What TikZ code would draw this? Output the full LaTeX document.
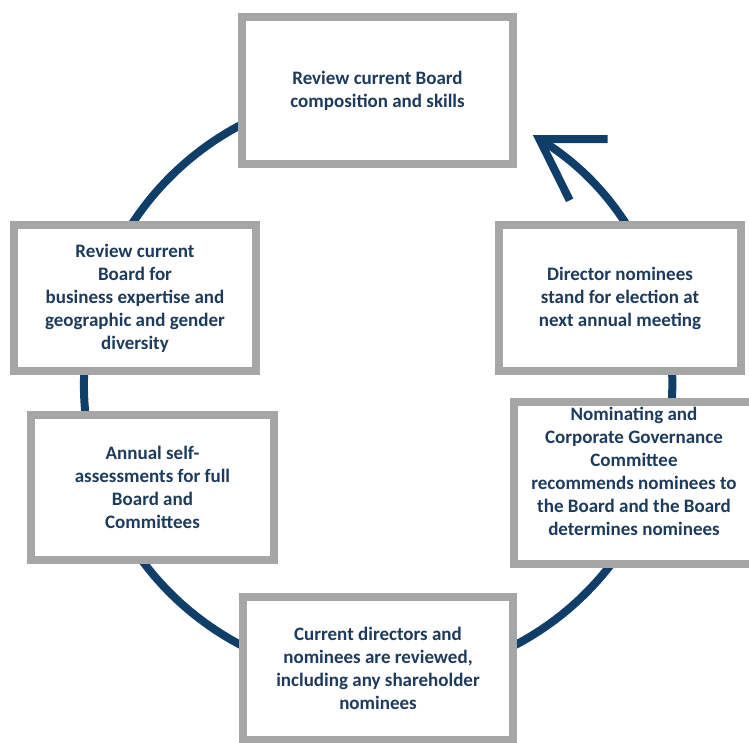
\documentclass[tikz,border=0pt]{standalone}
\usepackage{fontspec}
\setmainfont{Carlito}
\usetikzlibrary{arrows.meta}
\definecolor{ringblue}{HTML}{0F3F69}
\definecolor{textblue}{HTML}{1D3B5C}
\definecolor{framegray}{HTML}{A6A6A6}
\newcommand{\stagefont}{\fontsize{19}{23}\selectfont\bfseries}

\begin{document}
\begin{tikzpicture}[x=1pt, y=1pt,
	stage/.style={draw=framegray, line width=8pt, fill=white, text=textblue,
		font=\stagefont, align=center, inner sep=4pt},
	ring/.style={draw=ringblue, line width=8pt,
		-{Straight Barb[length=58pt,width=72pt]}}]
\useasboundingbox (0,0) rectangle (749,743);
\coordinate (hub) at (378,358);
% the cycle, boxes sit on top of it
\draw[ring] ([shift={(64:294pt)}]hub) arc[start angle=64, end angle=418.2, radius=294pt];
\node[stage, minimum width=271pt, minimum height=147pt] (review) at (377.5,652.5)
	{Review current Board\\composition and skills};
\node[stage, minimum width=242pt, minimum height=146pt] (diversity) at (135,445)
	{Review current\\Board for\\business expertise and\\geographic and gender\\diversity};
\node[stage, minimum width=243pt, minimum height=145pt] (selfassess) at (152.5,255.5)
	{Annual self-\\assessments for full\\Board and\\Committees};
\node[stage, minimum width=270pt, minimum height=143pt] (reviewed) at (378,74.5)
	{Current directors and\\nominees are reviewed,\\including any shareholder\\nominees};
% text sits high in this one, right side runs off the page
\node[stage, minimum width=240pt, minimum height=162pt, text depth=24pt] (nominate) at (634,260)
	{Nominating and\\Corporate Governance\\Committee\\recommends nominees to\\the Board and the Board\\determines nominees};
\node[stage, minimum width=242pt, minimum height=146pt] (election) at (620,445)
	{Director nominees\\stand for election at\\next annual meeting};
\end{tikzpicture}
\end{document}
